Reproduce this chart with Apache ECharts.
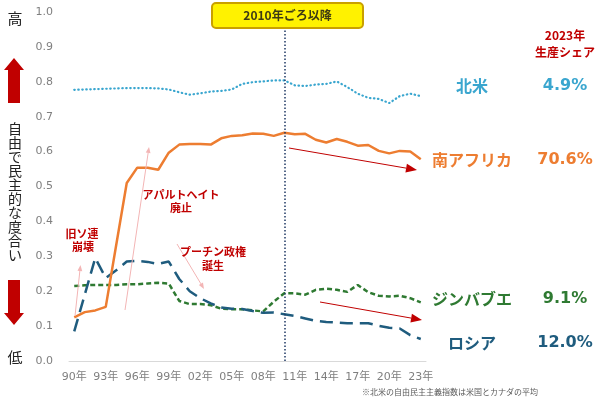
<!DOCTYPE html>
<html>
<head>
<meta charset="utf-8">
<script src="https://cdn.jsdelivr.net/npm/echarts@6/dist/echarts.min.js"></script>
<style>
  html, body { margin: 0; padding: 0; background: #fff; }
  #chart { width: 600px; height: 397px; }
</style>
</head>
<body>
<div id="chart"></div>
<script>
// 自由民主主義指数 1990–2023
const years = ['90年','91年','92年','93年','94年','95年','96年','97年','98年','99年',
  '00年','01年','02年','03年','04年','05年','06年','07年','08年','09年',
  '10年','11年','12年','13年','14年','15年','16年','17年','18年','19年',
  '20年','21年','22年','23年'];
const northAmerica = [0.777,0.778,0.779,0.780,0.781,0.782,0.782,0.782,0.781,0.778,
  0.770,0.763,0.767,0.772,0.774,0.778,0.794,0.799,0.801,0.804,
  0.804,0.790,0.788,0.792,0.794,0.801,0.785,0.766,0.754,0.751,
  0.739,0.759,0.766,0.759];
const southAfrica = [0.125,0.140,0.145,0.155,0.333,0.510,0.554,0.554,0.548,0.597,
  0.620,0.622,0.622,0.620,0.638,0.645,0.647,0.652,0.651,0.645,
  0.654,0.650,0.651,0.634,0.626,0.636,0.628,0.617,0.619,0.602,
  0.595,0.602,0.600,0.578];
const zimbabwe = [0.215,0.217,0.218,0.218,0.218,0.220,0.220,0.222,0.224,0.222,
  0.172,0.163,0.163,0.160,0.150,0.148,0.148,0.145,0.142,0.170,
  0.194,0.194,0.190,0.204,0.207,0.204,0.198,0.218,0.197,0.187,
  0.185,0.187,0.180,0.168];
const russia = [0.085,0.190,0.295,0.238,0.260,0.285,0.287,0.284,0.278,0.285,
  0.235,0.200,0.180,0.165,0.153,0.150,0.149,0.143,0.138,0.139,
  0.134,0.129,0.122,0.115,0.112,0.110,0.108,0.108,0.108,0.101,
  0.095,0.093,0.074,0.063];
const shareNames = ['北米','南アフリカ','ジンバブエ','ロシア'];
const shares = ['4.9%','70.6%','9.1%','12.0%'];

const C_NA = '#3aa6cf', C_SA = '#ed7d31', C_ZW = '#2f7a32', C_RU = '#1f5c7e';
const RED = '#c00000', PINK = '#f3b5b5';
const JP = '"Noto Sans CJK JP", sans-serif';
const NUM = '"DejaVu Sans", "Noto Sans CJK JP", sans-serif';

// 注釈用の矢印（線＋三角）
function arrow(x1, y1, x2, y2, color, w, head) {
  const a = Math.atan2(y2 - y1, x2 - x1);
  const bx = x2 - head * Math.cos(a), by = y2 - head * Math.sin(a);
  const px = Math.sin(a) * head * 0.4, py = -Math.cos(a) * head * 0.4;
  return [
    { type: 'line', shape: { x1, y1, x2: bx, y2: by }, style: { stroke: color, lineWidth: w }, z: 50 },
    { type: 'polygon', shape: { points: [[x2, y2], [bx + px, by + py], [bx - px, by - py]] }, style: { fill: color }, z: 50 }
  ];
}
function txt(x, y, text, color, size, weight, align, family) {
  return { type: 'text', x, y, z: 60,
    style: { text, fill: color, font: (weight || 'normal') + ' ' + size + 'px ' + (family || JP),
      align: align || 'center', verticalAlign: 'middle', lineHeight: size + 2 } };
}

const rightColors = [C_NA, C_SA, C_ZW, C_RU];
const rightY = [86, 160, 299, 343];
const graphics = [
  // 2010年ごろ以降
  { type: 'rect', shape: { x: 212, y: 3, width: 151, height: 25, r: 4 }, z: 55,
    style: { fill: '#fff200', stroke: '#c9a000', lineWidth: 2 } },
  txt(287.5, 15.5, '2010年ごろ以降', '#3d3a14', 12, 'bold'),
  // 左の縦軸説明
  txt(15, 18, '高', '#222', 15),
  txt(15, 357, '低', '#222', 15),
  { type: 'polygon', shape: { points: [[14, 58], [24, 70], [20, 70], [20, 103], [8, 103], [8, 70], [4, 70]] },
    style: { fill: RED } },
  { type: 'polygon', shape: { points: [[8, 280], [20, 280], [20, 313], [24, 313], [14, 325], [4, 313], [8, 313]] },
    style: { fill: RED } },
  { type: 'text', x: 15, y: 122, z: 60,
    style: { text: '自由で民主的な度合い'.split('').join('\n'), fill: '#222', font: '14px ' + JP,
      align: 'center', verticalAlign: 'top', lineHeight: 14 } },
  // 右側の凡例とシェア
  txt(565, 35, '2023年', RED, 12, 'bold'),
  txt(565, 52, '生産シェア', RED, 12, 'bold'),
  // 注釈
  txt(82, 234, '旧ソ連', RED, 11, 'bold'),
  txt(83, 247, '崩壊', RED, 11, 'bold'),
  txt(181, 195, 'アパルトヘイト', RED, 11, 'bold'),
  txt(181, 208, '廃止', RED, 11, 'bold'),
  txt(213, 252, 'プーチン政権', RED, 11, 'bold'),
  txt(213, 266, '誕生', RED, 11, 'bold'),
  ...arrow(75, 316, 80.5, 265, PINK, 1, 6),
  ...arrow(125, 310, 149, 147, PINK, 1, 6),
  ...arrow(177, 244, 204, 289, PINK, 1, 6),
  ...arrow(289, 148, 417, 170, RED, 1, 11),
  ...arrow(320, 302, 422, 320, RED, 1, 11),
  // 注記
  { type: 'text', x: 362, y: 392, z: 60,
    style: { text: '※北米の自由民主主義指数は米国とカナダの平均', fill: '#595959', font: '8px ' + JP,
      align: 'left', verticalAlign: 'middle' } }
];
shareNames.forEach((n, i) => {
  graphics.push(txt(472, rightY[i], n, rightColors[i], 16, 'bold'));
  graphics.push(txt(565, rightY[i], shares[i], rightColors[i], 16, 'bold', 'center', NUM));
});

const chart = echarts.init(document.getElementById('chart'));
chart.setOption({
  animation: false,
  grid: { left: 69, right: 174, top: 12, bottom: 36 },
  xAxis: {
    type: 'category', data: years, boundaryGap: true,
    axisLine: { lineStyle: { color: '#d9d9d9' } },
    axisTick: { interval: 2, length: 4, lineStyle: { color: '#d9d9d9' } },
    axisLabel: { interval: 2, color: '#7f7f7f', fontSize: 11, margin: 11, fontFamily: NUM }
  },
  yAxis: {
    type: 'value', min: 0, max: 1, interval: 0.1,
    axisLine: { show: false }, axisTick: { show: false }, splitLine: { show: false },
    axisLabel: { color: '#7f7f7f', fontSize: 11, margin: 16, fontFamily: NUM, formatter: v => v.toFixed(1) }
  },
  series: [
    { name: '北米', type: 'line', data: northAmerica, symbol: 'none',
      lineStyle: { color: C_NA, width: 2.2, type: [0.5, 3.5], cap: 'round' },
      markLine: { silent: true, symbol: 'none', label: { show: false },
        lineStyle: { color: '#1f3864', width: 1.5, type: [1.5, 2] },
        data: [{ xAxis: '10年' }] } },
    { name: 'ジンバブエ', type: 'line', data: zimbabwe, symbol: 'none',
      lineStyle: { color: C_ZW, width: 2.5, type: [5, 3] } },
    { name: 'ロシア', type: 'line', data: russia, symbol: 'none',
      lineStyle: { color: C_RU, width: 2.5, type: [13, 7] } },
    { name: '南アフリカ', type: 'line', data: southAfrica, symbol: 'none',
      lineStyle: { color: C_SA, width: 2.5 } }
  ],
  graphic: graphics
});
</script>
</body>
</html>
